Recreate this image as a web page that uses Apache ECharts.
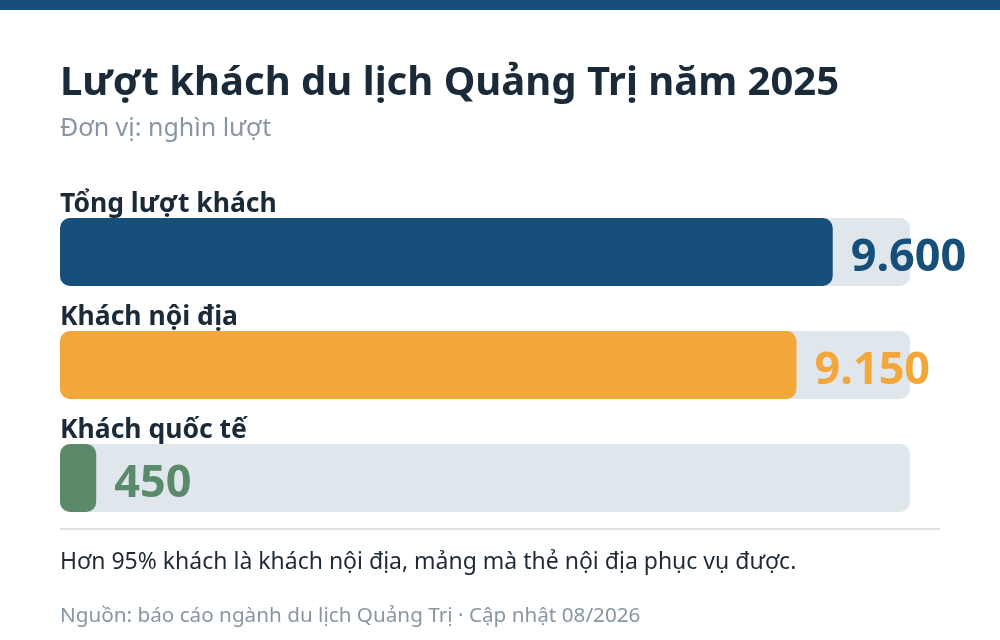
<!DOCTYPE html>
<html><head><meta charset="utf-8">
<script src="https://cdn.jsdelivr.net/npm/echarts@6/dist/echarts.min.js"></script>
<style>html,body{margin:0;padding:0;background:#fff}#c{width:1000px;height:640px}</style>
</head><body><div id="c"></div>
<script>
const categories = ['Tổng lượt khách', 'Khách nội địa', 'Khách quốc tế'];
const values = [9600, 9150, 450];
const axisMax = 10560;
const titleText = 'Lượt khách du lịch Quảng Trị năm 2025';
const subtitleText = 'Đơn vị: nghìn lượt';
const noteText = 'Hơn 95% khách là khách nội địa, mảng mà thẻ nội địa phục vụ được.';
const sourceText = 'Nguồn: báo cáo ngành du lịch Quảng Trị · Cập nhật 08/2026';

const barColors = ['#164f79', '#f3a73b', '#5b8a6b'];
const FONT = '"Noto Sans", "Open Sans", sans-serif';

const chart = echarts.init(document.getElementById('c'));
chart.setOption({
  animation: false,
  backgroundColor: '#fff',
  textStyle: { fontFamily: FONT },
  title: [
    { text: titleText, left: 60, top: 64, padding: 0, textStyle: { fontFamily: FONT, fontSize: 40, fontWeight: 'bold', color: '#1b2a38' } },
    { text: subtitleText, left: 60, top: 116, padding: 0, textStyle: { fontFamily: FONT, fontSize: 25, fontWeight: 'normal', color: '#8796a5' } },
    { text: noteText, left: 60, top: 551, padding: 0, textStyle: { fontFamily: FONT, fontSize: 23, fontWeight: 'normal', color: '#1e2a36' } },
    { text: sourceText, left: 60, top: 606, padding: 0, textStyle: { fontFamily: FONT, fontSize: 20.7, fontWeight: 'normal', color: '#8796a5' } }
  ],
  graphic: [
    { type: 'rect', shape: { x: 0, y: 0, width: 1000, height: 10 }, style: { fill: '#164f79' } },
    { type: 'line', shape: { x1: 60, y1: 529, x2: 940, y2: 529 }, style: { stroke: '#dfe3e7', lineWidth: 2 } }
  ],
  grid: { left: 60, right: 90, top: 195.5, height: 339, containLabel: false },
  xAxis: { type: 'value', min: 0, max: axisMax, show: false },
  yAxis: {
    type: 'category', data: categories, inverse: true,
    axisLine: { show: false }, axisTick: { show: false }, splitLine: { show: false },
    axisLabel: {
      inside: true, align: 'left', verticalAlign: 'bottom', margin: 0,
      padding: [0, 0, 34, 0],
      fontFamily: FONT, fontSize: 26.5, fontWeight: 'bold', color: '#1b2a38'
    }
  },
  series: [{
    type: 'bar', barWidth: 68,
    data: values.map((v, i) => ({ value: v, itemStyle: { color: barColors[i] }, label: { color: barColors[i] } })),
    itemStyle: { borderRadius: 10 },
    showBackground: true,
    backgroundStyle: { color: '#dfe6ec', borderRadius: 10 },
    label: {
      show: true, position: 'right', distance: 18, offset: [0, 6],
      fontFamily: FONT, fontSize: 45, fontWeight: 'bold',
      formatter: p => p.value.toLocaleString('de-DE')
    }
  }]
});
</script></body></html>
